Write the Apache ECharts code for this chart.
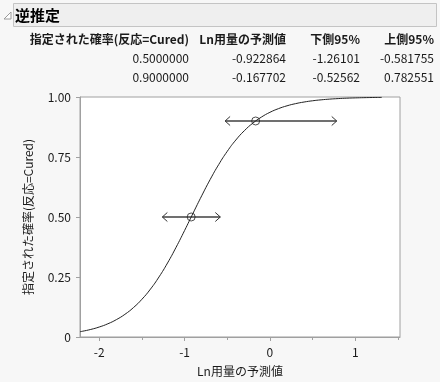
<!DOCTYPE html>
<html><head><meta charset="utf-8">
<script src="https://cdn.jsdelivr.net/npm/echarts@6/dist/echarts.min.js"></script>
<style>html,body{margin:0;padding:0;background:#f7f7f7;}#c{width:440px;height:382px;}</style>
</head><body><div id="c"></div>
<script>
// ---- data ----
const title = '逆推定';
const tableHeaders = ['指定された確率(反応=Cured)', 'Ln用量の予測値', '下側95%', '上側95%'];
const tableRow1 = ['0.5000000', '-0.922864', '-1.26101', '-0.581755'];
const tableRow2 = ['0.9000000', '-0.167702', '-0.52562', '0.782551'];
const probs = [0.5, 0.9];
const predX = [-0.922864, -0.167702];
const lower95 = [-1.26101, -0.52562];
const upper95 = [-0.581755, 0.782551];
const curveX = [-2.226, -2.2, -2.1, -2.0, -1.9, -1.8, -1.7, -1.6, -1.5, -1.4, -1.3, -1.2, -1.1, -1.0, -0.9, -0.8, -0.7, -0.6, -0.5, -0.4, -0.3, -0.2, -0.1, 0.0, 0.1, 0.2, 0.3, 0.4, 0.5, 0.6, 0.7, 0.8, 0.9, 1.0, 1.1, 1.2, 1.31];
const curveP = [0.0221, 0.0237, 0.0315, 0.0417, 0.0550, 0.0723, 0.0944, 0.1224, 0.1573, 0.1997, 0.2503, 0.3085, 0.3738, 0.4440, 0.5166, 0.5883, 0.6566, 0.7189, 0.7738, 0.8207, 0.8596, 0.8912, 0.9163, 0.9362, 0.9515, 0.9633, 0.9723, 0.9791, 0.9843, 0.9882, 0.9912, 0.9934, 0.9951, 0.9963, 0.9972, 0.9979, 0.9985];
const xLabelValues = [-2, -1, 0, 1];
const xMinorTickValues = [-2, -1.5, -1, -0.5, 0, 0.5, 1, 1.5];
const yTickValues = [0, 0.25, 0.5, 0.75, 1];
const xTitle = 'Ln用量の予測値';
const yTitle = '指定された確率(反応=Cured)';

const FONT = '"Noto Sans CJK JP", "Noto Sans", sans-serif';
const chart = echarts.init(document.getElementById('c'), null, {renderer: 'canvas'});

const colRight = [189, 286, 360, 434];
const tableGraphics = [];
[tableHeaders, tableRow1, tableRow2].forEach((row, ri) => {
  row.forEach((t, ci) => {
    tableGraphics.push({
      type: 'text', x: colRight[ci], y: [39, 58, 77][ri],
      style: {text: t, align: 'right', verticalAlign: 'middle', fill: '#1a1a1a',
        font: (ri === 0 ? 'bold ' : '') + '12px ' + FONT}
    });
  });
});

const curveData = curveX.map((x, i) => [x, curveP[i]]);
const pointData = probs.map((p, i) => [predX[i], p]);
const barData = probs.map((p, i) => [p, lower95[i], upper95[i]]);

chart.setOption({
  backgroundColor: '#f7f7f7',
  animation: false,
  graphic: [
    {type: 'rect', shape: {x: 13.5, y: 3.5, width: 423, height: 23}, style: {fill: '#efefef', stroke: '#c4c4c4', lineWidth: 1}},
    {type: 'polygon', shape: {points: [[4, 19], [11, 12], [11, 19]]}, style: {fill: '#ffffff', stroke: '#9a9a9a', lineWidth: 1}},
    {type: 'text', x: 15, y: 15, style: {text: title, verticalAlign: 'middle', fill: '#000', font: 'bold 15px ' + FONT}},
    ...tableGraphics
  ],
  grid: {left: 80, top: 97, width: 320, height: 240, show: true, backgroundColor: '#ffffff', borderColor: '#a0a0a0', borderWidth: 1},
  xAxis: [{
    type: 'value', min: -2.226, max: 1.524,
    name: xTitle, nameLocation: 'middle', nameGap: 28,
    nameTextStyle: {fontFamily: FONT, fontSize: 12, color: '#1a1a1a'},
    axisLine: {show: true, onZero: false, lineStyle: {color: '#a0a0a0'}},
    axisTick: {show: true, length: 4, customValues: xLabelValues, lineStyle: {color: '#a0a0a0'}},
    axisLabel: {customValues: xLabelValues, margin: 9, fontFamily: FONT, fontSize: 12, color: '#1a1a1a'},
    splitLine: {show: false}
  }, {
    type: 'value', min: -2.226, max: 1.524, position: 'bottom', gridIndex: 0,
    axisLine: {show: false, onZero: false},
    axisTick: {show: true, length: 3, customValues: xMinorTickValues, lineStyle: {color: '#a0a0a0'}},
    axisLabel: {show: false},
    splitLine: {show: false}
  }],
  yAxis: {
    type: 'value', min: 0, max: 1, interval: 0.25,
    name: yTitle, nameLocation: 'middle', nameGap: 46,
    nameTextStyle: {fontFamily: FONT, fontSize: 12, color: '#1a1a1a'},
    axisLine: {show: true, onZero: false, lineStyle: {color: '#a0a0a0'}},
    axisTick: {show: true, length: 4, lineStyle: {color: '#a0a0a0'}},
    axisLabel: {margin: 9, fontFamily: FONT, fontSize: 12, color: '#1a1a1a',
      formatter: v => v === 0 ? '0' : v.toFixed(2)},
    splitLine: {show: false}
  },
  series: [{
    type: 'custom', z: 1, clip: false,
    data: barData,
    encode: {x: [1, 2], y: 0},
    renderItem: (params, api) => {
      const lo = api.coord([api.value(1), api.value(0)]);
      const hi = api.coord([api.value(2), api.value(0)]);
      const ah = 5, av = 4.5;
      return {type: 'group', children: [
        {type: 'line', shape: {x1: lo[0], y1: lo[1], x2: hi[0], y2: hi[1]}, style: {stroke: '#707070', lineWidth: 2}},
        {type: 'polyline', shape: {points: [[lo[0] + ah, lo[1] - av], [lo[0], lo[1]], [lo[0] + ah, lo[1] + av]]}, style: {stroke: '#333', lineWidth: 1, fill: null}},
        {type: 'polyline', shape: {points: [[hi[0] - ah, hi[1] - av], [hi[0], hi[1]], [hi[0] - ah, hi[1] + av]]}, style: {stroke: '#333', lineWidth: 1, fill: null}}
      ]};
    }
  }, {
    type: 'line', z: 2, data: curveData, smooth: true, symbol: 'none',
    lineStyle: {color: '#222', width: 1}
  }, {
    type: 'scatter', z: 3, data: pointData, symbol: 'circle', symbolSize: 8,
    itemStyle: {color: 'rgba(0,0,0,0)', borderColor: '#222', borderWidth: 1}
  }]
});
</script></body></html>
